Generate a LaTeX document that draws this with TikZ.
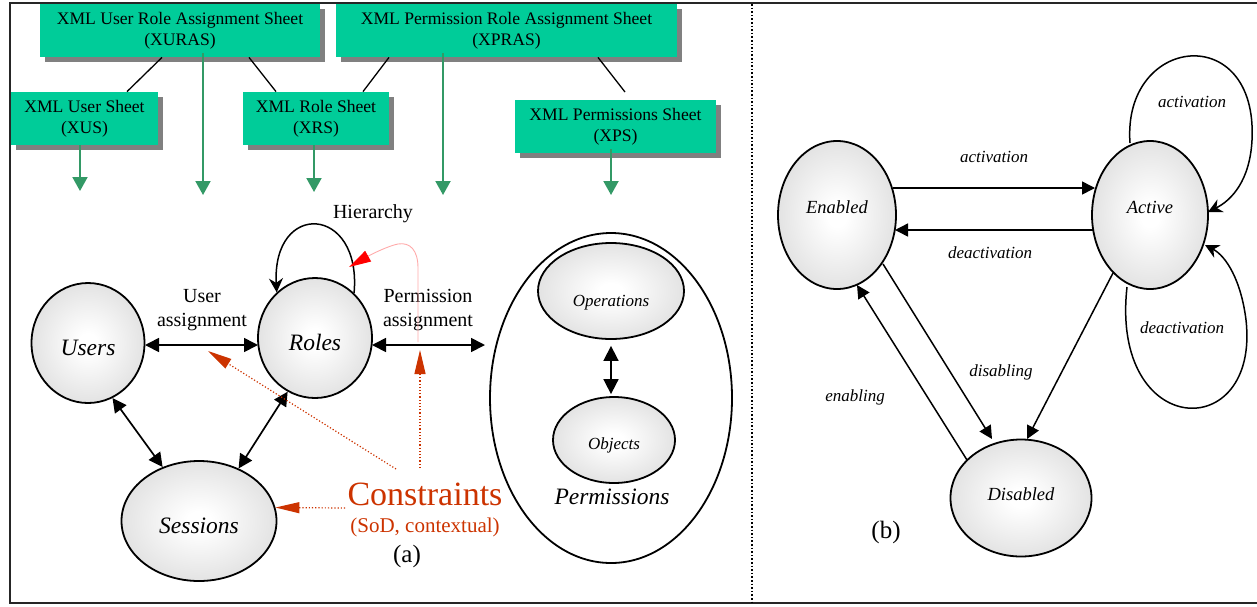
\documentclass[tikz,border=0pt]{standalone}
\usepackage{fontspec}
\setmainfont{Liberation Serif}
\usetikzlibrary{arrows.meta,shapes.geometric,shadows,calc}
\pgfdeclareradialshading{myball}{\pgfpoint{0bp}{0bp}}{color(0bp)=(white); color(4bp)=(white); color(50bp)=(black!24)}
\definecolor{xgreen}{HTML}{00CC99}
\definecolor{xgreendark}{HTML}{339966}
\definecolor{xshadow}{HTML}{808080}
\definecolor{xred}{HTML}{CC3300}
\definecolor{xpink}{HTML}{FFAAAA}
\definecolor{xbright}{HTML}{FF0000}
\begin{document}
\begin{tikzpicture}[x=0.5pt,y=-0.5pt,
  greenbox/.style={rectangle, fill=xgreen, inner sep=0pt, align=center,
    font=\fontsize{8.8pt}{10.5pt}\selectfont, minimum height=26.5pt,
    drop shadow={shadow xshift=2.5pt, shadow yshift=-2.5pt, fill=xshadow, opacity=1}},
  ball/.style={ellipse, draw, line width=0.9pt, shade, shading=myball, inner sep=0pt},
  bigball/.style={ball, font=\itshape\fontsize{11.75pt}{14pt}\selectfont, text height=12.8pt, text depth=0pt},
  smallball/.style={ball, font=\itshape\fontsize{8.5pt}{10pt}\selectfont, text depth=0pt},
  stateball/.style={ball, font=\itshape\fontsize{9.25pt}{11pt}\selectfont, text height=6.5pt, text depth=8.5pt},
  link/.style={line width=0.65pt},
  garrow/.style={draw=xgreendark, line width=1pt, -{Triangle[width=7.5pt,length=7pt]}},
  dblarrow/.style={line width=0.85pt, {Triangle[width=7pt,length=7pt]}-{Triangle[width=7pt,length=7pt]}},
  bigdbl/.style={line width=0.85pt, {Triangle[width=7.5pt,length=7.5pt]}-{Triangle[width=7.5pt,length=7.5pt]}},
  onearrow/.style={line width=0.75pt, -{Triangle[width=6.5pt,length=6.5pt]}},
  loopline/.style={line width=0.75pt, -{Stealth[width=7pt,length=7pt]}},
  redarrow/.style={draw=xred, line width=0.6pt, densely dotted, -{Triangle[width=5.5pt,length=12pt,color=xred]}},
  pinkline/.style={draw=xpink, line width=0.45pt, -{Triangle[width=6pt,length=11pt,color=xbright]}},
  lbl/.style={font=\fontsize{10pt}{12pt}\selectfont, align=center, inner sep=0pt},
  ilbl/.style={font=\itshape\fontsize{8.5pt}{10pt}\selectfont, inner sep=0pt},
  panellbl/.style={font=\fontsize{12.5pt}{14pt}\selectfont, inner sep=0pt},
]
\useasboundingbox (0,0) rectangle (1257,606);
% frame and divider
\draw[line width=1.1pt, draw=black!85] (10,3) rectangle (1264,603);
\draw[densely dotted, line width=0.8pt] (752,4) -- (752,602);

% XML sheets
\node[greenbox, minimum width=140pt] (xuras) at (180,30.5) {XML User Role Assignment Sheet\\(XURAS)};
\node[greenbox, minimum width=73.5pt] (xus) at (84.5,118.5) {XML User Sheet\\(XUS)};
\node[greenbox, minimum width=73pt] (xrs) at (316,118.5) {XML Role Sheet\\(XRS)};
\node[greenbox, minimum width=170.5pt] (xpras) at (506.5,30.5) {XML Permission Role Assignment Sheet\\(XPRAS)};
\node[greenbox, minimum width=100.5pt] (xps) at (615.5,126.5) {XML Permissions Sheet\\(XPS)};

\draw[link] ($(xuras.south)+(-18,0)$) -- ($(xus.north)+(42.5,0)$);
\draw[link] ($(xuras.south)+(69,0)$) -- ($(xrs.north)+(-40,0)$);
\draw[link] ($(xpras.south)+(-117.5,0)$) -- ($(xrs.north)+(47,0)$);
\coordinate (xpsend) at (625,92);
\draw[link] ($(xpras.south)+(91.5,0)$) -- (xpsend);

\coordinate (g1) at (80,191);
\coordinate (g2) at (203,195);
\coordinate (g3) at (314,192);
\coordinate (g4) at (443,195);
\coordinate (g5) at (611,195);
\draw[garrow] ($(xus.south)+(-4.5,0)$) -- (g1);
\draw[garrow] ($(xuras.south)+(23,-4)$) -- (g2);
\draw[garrow] ($(xrs.south)+(-2,0)$) -- (g3);
\draw[garrow] ($(xpras.south)+(-63.5,-4)$) -- (g4);
\draw[garrow] ($(xps.south)+(-4.5,-4)$) -- (g5);

% RBAC model
\node[bigball, minimum width=56.5pt, minimum height=60pt] (users) at (88,343) {Users};
\node[bigball, minimum width=57pt, minimum height=60pt] (roles) at (315,338) {Roles};
\node[bigball, minimum width=77.5pt, minimum height=60pt] (sessions) at (199,521) {Sessions};
\node[ellipse, draw, line width=0.9pt, minimum width=121pt, minimum height=165pt, inner sep=0pt] (perm) at (611,398) {};
\node[smallball, text height=15.4pt, minimum width=73pt, minimum height=48pt] (ops) at (611,291) {Operations};
\node[smallball, text height=9.4pt, minimum width=61pt, minimum height=43pt] (objs) at (614,440) {Objects};
\node[font=\itshape\fontsize{11.75pt}{14pt}\selectfont, inner sep=0pt] (permlbl) at (612,497) {Permissions};

\coordinate (permin) at (485,345);
\draw[dblarrow] ($(users)+(57,2)$) -- ($(roles)+(-57,7)$);
\draw[dblarrow] ($(roles)+(57,7)$) -- (permin);
\draw[dblarrow] (users.-66) -- (sessions.124);
\draw[dblarrow] (roles.243) -- (sessions.53);
\draw[bigdbl] ($(ops.south)+(0,6)$) -- ($(objs.north)+(-3,-2)$);
\draw[loopline] (roles.49) .. controls (362,205) and (272,200) .. (roles.130);

\node[lbl] (hier) at (373,214) {Hierarchy};
\node[lbl] (ua) at (202,310) {User\\assignment};
\node[lbl] (pa) at (428,310) {Permission\\assignment};

% constraints
\node[font=\fontsize{17pt}{20pt}\selectfont, text=xred, inner sep=0pt] (cons) at (425,494) {Constraints};
\node[font=\fontsize{10.5pt}{12pt}\selectfont, text=xred, inner sep=0pt] (sod) at (425,527) {(SoD, contextual)};
\node[panellbl] (alab) at (407,556) {(a)};

\coordinate (r1s) at (396,469);
\coordinate (r1e) at (208,351);
\coordinate (r2s) at (420,468);
\coordinate (r2e) at (420,350);
\draw[redarrow] (r1s) -- (r1e);
\draw[redarrow] (r2s) -- (r2e);
\draw[redarrow] ($(cons.west)+(-2,14)$) -- (sessions.10);

\coordinate (pk) at (418,342);
\coordinate (pkend) at (349,267);
\draw[pinkline] (pk) -- (418,268) .. controls (418,250) and (410,242) .. (398,244) .. controls (388,246) and (372,254) .. (pkend);

% state diagram
\node[stateball, minimum width=59pt, minimum height=74pt] (enabled) at (837,215) {Enabled};
\node[stateball, minimum width=58pt, minimum height=74pt] (active) at (1150,215) {Active};
\node[stateball, text depth=4.5pt, minimum width=70.5pt, minimum height=58.5pt] (disabled) at (1021,498) {Disabled};

\draw[onearrow] ($(enabled)+(56,-27)$) -- ($(active)+(-55,-27)$);
\draw[onearrow] ($(active)+(-57,15)$) -- ($(enabled)+(58,15)$);
\draw[onearrow] ($(enabled)+(46,49)$) -- ($(disabled)+(-29,-59)$);
\draw[onearrow] ($(active)+(-37,58)$) -- ($(disabled)+(6,-59)$);
\draw[onearrow] ($(disabled)+(-54,-38)$) -- ($(enabled)+(20,70)$);
\draw[loopline] ($(active)+(-20,-72)$) .. controls (1122,35) and (1258,20) .. (1252,140) .. controls (1250,180) and (1232,200) .. ($(active)+(58,-3)$);
\draw[loopline] ($(active)+(-23,72)$) .. controls (1110,440) and (1260,445) .. (1246,320) .. controls (1241,280) and (1226,256) .. ($(active)+(55,30)$);

\node[ilbl] (l1) at (994,157) {activation};
\node[ilbl] (l2) at (990,253) {deactivation};
\node[ilbl] (l3) at (1192,102) {activation};
\node[ilbl] (l4) at (1182,328) {deactivation};
\node[ilbl] (l5) at (1001,372) {disabling};
\node[ilbl] (l6) at (855,397) {enabling};
\node[panellbl] (blab) at (886,532) {(b)};
\end{tikzpicture}
\end{document}
